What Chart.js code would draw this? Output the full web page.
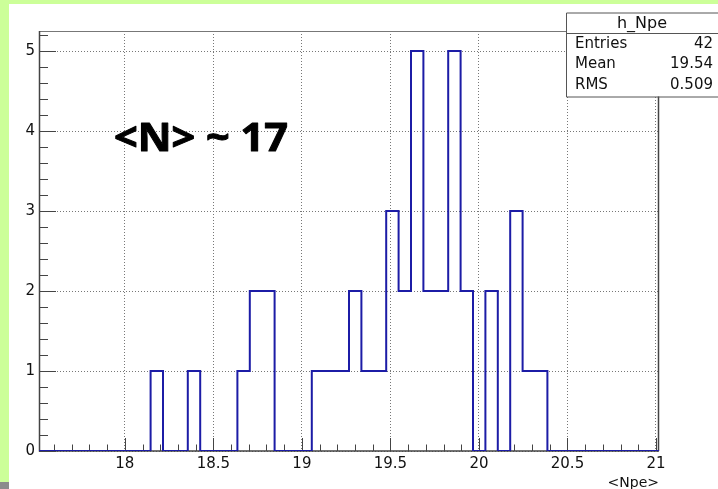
<!DOCTYPE html>
<html>
<head>
<meta charset="utf-8">
<title>h_Npe</title>
<script src="https://cdn.jsdelivr.net/npm/chart.js@4.4.0/dist/chart.umd.min.js"></script>
<style>
  html, body { margin: 0; padding: 0; }
  body { width: 718px; height: 489px; background: #ccff99; position: relative; overflow: hidden; }
  #pad { position: absolute; left: 9px; top: 4px; width: 709px; height: 485px; background: #fff; }
  #pad canvas { display: block; }
  #corner { position: absolute; left: 0; top: 482px; width: 9px; height: 7px; background: #8c8c8c; }
</style>
</head>
<body>
<div id="pad"><canvas id="histChart" width="709" height="485"></canvas></div>
<div id="corner"></div>
<script>
// histogram range and bin contents (50 bins)
const xMin = 17.515;
const xMax = 21.017;
const counts = [0, 0, 0, 0, 0, 0, 0, 0, 0, 1,
                0, 0, 1, 0, 0, 0, 1, 2, 2, 0,
                0, 0, 1, 1, 1, 2, 1, 1, 3, 2,
                5, 2, 2, 5, 2, 0, 2, 0, 3, 1,
                1, 0, 0, 0, 0, 0, 0, 0, 0, 0];
const xTicks = [18, 18.5, 19, 19.5, 20, 20.5, 21];
const yTicks = [0, 1, 2, 3, 4, 5];
const yMax = 5.25;

const histName = "h_Npe";
const statLabels = ["Entries", "Mean", "RMS"];
const statValues = ["42", "19.54", "0.509"];
const xTitle = "<Npe>";
const note = "<N> ~ 17";

const binWidth = (xMax - xMin) / counts.length;
const points = counts.map((c, i) => ({ x: xMin + i * binWidth, y: c }));
points.push({ x: xMax, y: 0 });

const tickFont = { family: "DejaVu Sans", size: 15 };

// frame + inward ticks, ROOT style
const rootFrame = {
  id: "rootFrame",
  beforeDatasetsDraw(chart) {
    const { ctx, chartArea: a, scales: { x, y } } = chart;
    ctx.save();
    ctx.strokeStyle = "#444";
    ctx.lineWidth = 1;
    ctx.beginPath();
    for (let k = 176; k <= 210; k++) {
      const px = Math.round(x.getPixelForValue(k / 10)) + 0.5;
      const len = k % 5 === 0 ? 13 : 6.5;
      ctx.moveTo(px, a.bottom);
      ctx.lineTo(px, a.bottom - len);
    }
    for (let k = 0; k <= 26; k++) {
      const py = Math.round(y.getPixelForValue(k * 0.2)) + 0.5;
      const len = k % 5 === 0 ? 17 : 9;
      ctx.moveTo(a.left, py);
      ctx.lineTo(a.left + len, py);
    }
    ctx.stroke();

    ctx.strokeStyle = "#777";
    ctx.beginPath();
    ctx.moveTo(a.left, a.top + 0.5);
    ctx.lineTo(a.right, a.top + 0.5);
    ctx.stroke();

    ctx.strokeStyle = "#444";
    ctx.lineWidth = 1.5;
    ctx.beginPath();
    ctx.moveTo(a.left + 0.5, a.top);
    ctx.lineTo(a.left + 0.5, a.bottom);
    ctx.lineTo(a.right, a.bottom);
    ctx.moveTo(a.right - 0.5, a.top);
    ctx.lineTo(a.right - 0.5, a.bottom);
    ctx.stroke();
    ctx.restore();
  },
  afterDraw(chart) {
    const ctx = chart.ctx;
    ctx.save();

    // big label
    ctx.font = "bold 39px 'Open Sans'";
    ctx.fillStyle = "#000";
    ctx.strokeStyle = "#000";
    ctx.lineWidth = 1;
    ctx.lineJoin = "round";
    ctx.textBaseline = "alphabetic";
    ctx.textAlign = "left";
    const w = ctx.measureText(note).width;
    ctx.translate(105, 147);
    ctx.scale(174 / w, 1);
    ctx.fillText(note, 0, 0);
    ctx.strokeText(note, 0, 0);
    ctx.setTransform(1, 0, 0, 1, 0, 0);

    // stats box
    const bx = 557, by = 8.5, bw = 160, bh = 84;
    ctx.fillStyle = "#fff";
    ctx.fillRect(bx, by, bw, bh);
    ctx.strokeStyle = "#555";
    ctx.lineWidth = 1;
    ctx.strokeRect(bx + 0.5, by + 0.5, bw, bh);
    ctx.beginPath();
    ctx.moveTo(bx, 29.5);
    ctx.lineTo(bx + bw, 29.5);
    ctx.stroke();

    ctx.fillStyle = "#111";
    ctx.textBaseline = "middle";
    ctx.font = "16px 'DejaVu Sans'";
    ctx.textAlign = "center";
    ctx.fillText(histName, 633, 20);
    ctx.font = "15px 'DejaVu Sans'";
    const rowY = [40, 60.5, 81];
    statLabels.forEach((s, i) => {
      ctx.textAlign = "left";
      ctx.fillText(s, 566, rowY[i]);
      ctx.textAlign = "right";
      ctx.fillText(statValues[i], 704, rowY[i]);
    });
    ctx.restore();
  }
};

new Chart(document.getElementById("histChart"), {
  type: "line",
  data: {
    datasets: [{
      label: histName,
      data: points,
      stepped: true,
      borderColor: "#1c1ca6",
      borderWidth: 2,
      pointRadius: 0,
      fill: false
    }]
  },
  options: {
    responsive: false,
    animation: false,
    devicePixelRatio: 1,
    layout: { padding: { left: 0, top: 27, right: 59, bottom: 0 } },
    plugins: { legend: { display: false }, tooltip: { enabled: false } },
    scales: {
      x: {
        type: "linear",
        min: xMin,
        max: xMax,
        afterBuildTicks: s => { s.ticks = xTicks.map(v => ({ value: v })); },
        afterFit: s => { s.height = 38; },
        ticks: { font: tickFont, color: "#111", padding: 4, maxRotation: 0, autoSkip: false,
                 callback: v => String(v) },
        grid: { drawTicks: false, color: "#777", lineWidth: 1 },
        border: { display: false, dash: [1, 2] },
        title: { display: true, text: xTitle, align: "end", color: "#111",
                 font: { family: "DejaVu Sans", size: 14 }, padding: { top: 0, bottom: -3 } }
      },
      y: {
        min: 0,
        max: yMax,
        afterBuildTicks: s => { s.ticks = yTicks.map(v => ({ value: v })); },
        afterFit: s => { s.width = 30; },
        ticks: { font: tickFont, color: "#111", padding: 4, callback: v => String(v) },
        grid: { drawTicks: false, color: "#777", lineWidth: 1 },
        border: { display: false, dash: [1, 2] }
      }
    }
  },
  plugins: [rootFrame]
});
</script>
</body>
</html>
